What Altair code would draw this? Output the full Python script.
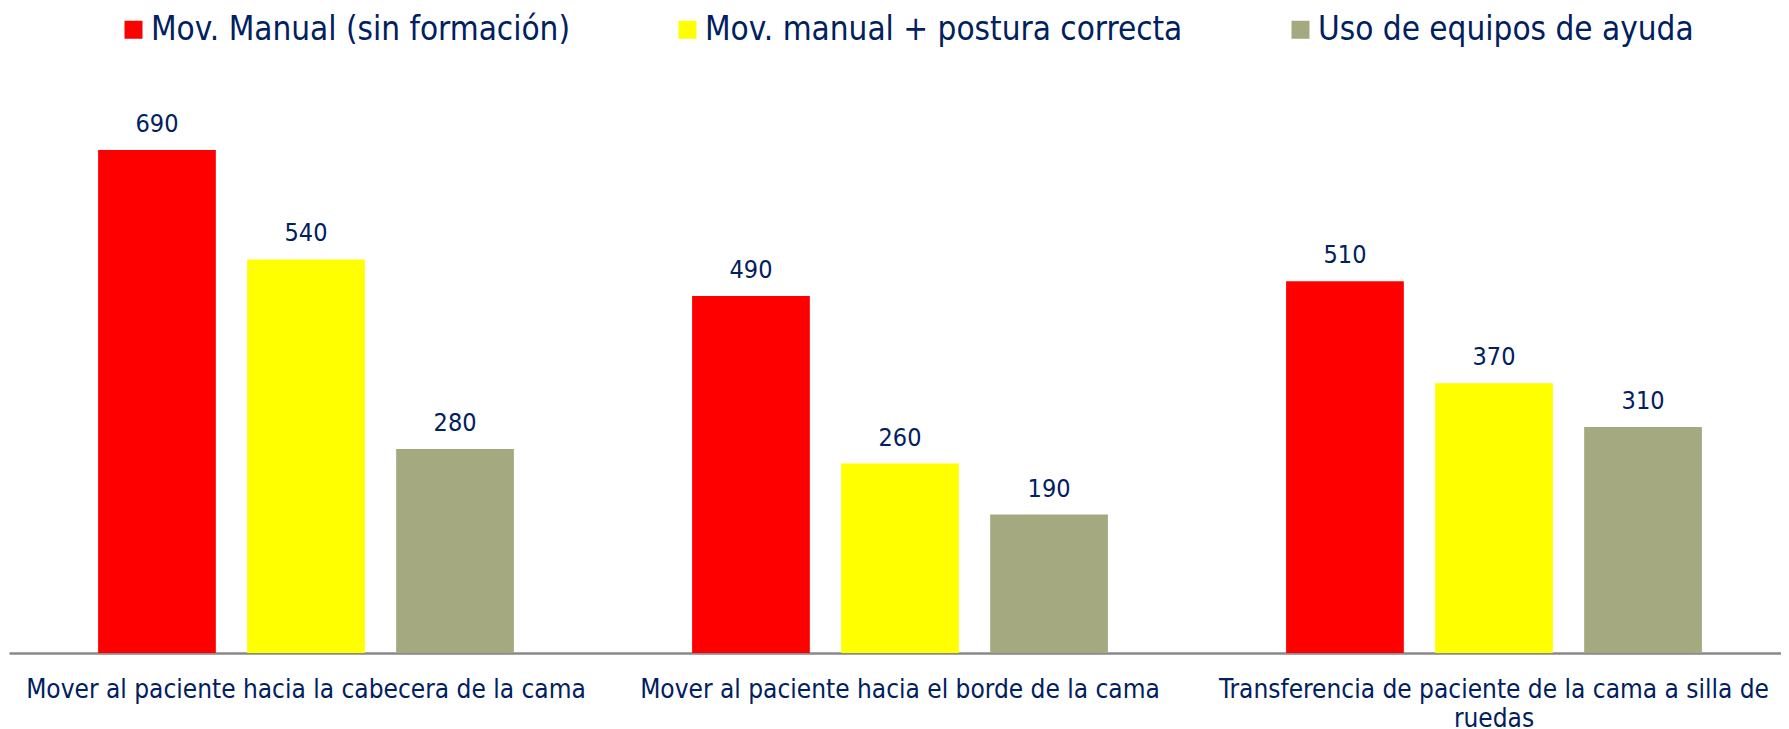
import altair as alt
import pandas as pd

categories = [
    "Mover al paciente hacia la cabecera de la cama",
    "Mover al paciente hacia el borde de la cama",
    "Transferencia de paciente de la cama a silla de ruedas",
]
series = [
    "Mov. Manual (sin formación)",
    "Mov. manual + postura correcta",
    "Uso de equipos de ayuda",
]
values_manual = [690, 490, 510]
values_postura = [540, 260, 370]
values_equipos = [280, 190, 310]
colors = ["#FF0000", "#FFFF00", "#A5A980"]

rows = []
for s, vals in zip(series, [values_manual, values_postura, values_equipos]):
    for c, v in zip(categories, vals):
        rows.append({"categoria": c, "serie": s, "valor": v})
df = pd.DataFrame(rows)

font = "Liberation Sans Narrow, DejaVu Sans Condensed, Roboto Condensed, Roboto, sans-serif"
navy = "#002060"

label_expr = (
    "datum.value == 'Transferencia de paciente de la cama a silla de ruedas' ? "
    "['Transferencia de paciente de la cama a silla de', 'ruedas'] : datum.label"
)

base = alt.Chart(df).encode(
    x=alt.X(
        "categoria:N",
        sort=categories,
        scale=alt.Scale(paddingInner=0.3, paddingOuter=0.15),
        axis=alt.Axis(
            title=None,
            labelAngle=0,
            labelFont=font,
            labelFontSize=26,
            labelColor=navy,
            labelPadding=23,
            labelLimit=900,
            labelOverlap=False,
            labelLineHeight=29,
            ticks=False,
            grid=False,
            domainColor="#898989",
            domainWidth=2.5,
            labelExpr=label_expr,
        ),
    ),
    xOffset=alt.XOffset(
        "serie:N", sort=series, scale=alt.Scale(paddingInner=0.21, paddingOuter=0)
    ),
    y=alt.Y("valor:Q", scale=alt.Scale(domain=[0, 885]), axis=None),
)

bars = base.mark_bar().encode(
    color=alt.Color(
        "serie:N",
        sort=series,
        scale=alt.Scale(domain=series, range=colors),
        legend=alt.Legend(
            title=None,
            orient="none",
            legendX=108,
            legendY=5,
            direction="horizontal",
            symbolType="square",
            symbolSize=324,
            symbolStrokeWidth=0,
            symbolOpacity=1,
            labelFont=font,
            labelFontSize=33,
            labelColor=navy,
            labelOffset=1,
            labelLimit=900,
            columnPadding=101,
            padding=0,
        ),
    )
)

text = base.mark_text(
    dy=-26, font=font, fontSize=25, color=navy, baseline="middle"
).encode(text="valor:Q")

chart = (
    alt.layer(bars, text)
    .properties(
        width=1782,
        height=645,
        padding={"left": 1, "top": 0, "right": -10, "bottom": 0},
    )
    .configure_view(stroke=None)
)

chart.save("out.html", embed_options={"renderer": "svg", "actions": False})
